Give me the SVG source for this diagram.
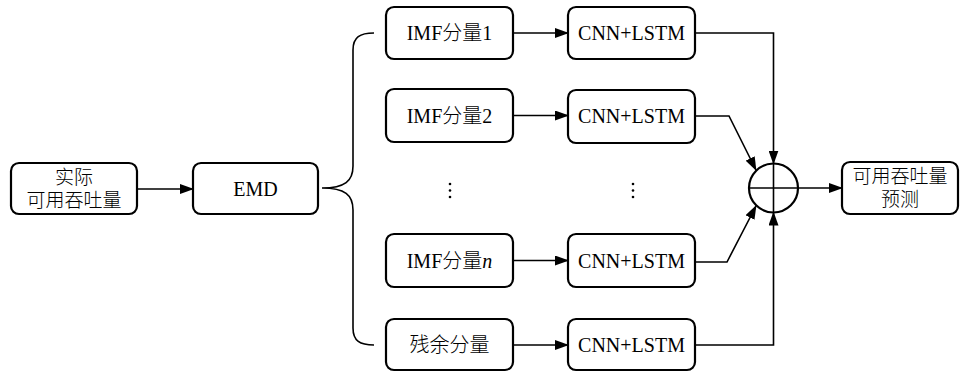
<svg xmlns="http://www.w3.org/2000/svg" width="963" height="376" viewBox="0 0 963 376">
<defs>
<marker id="ah" markerWidth="14" markerHeight="10" refX="13" refY="5" orient="auto" markerUnits="userSpaceOnUse">
<path d="M0,0 L14,5 L0,10 Z" fill="#000"/>
</marker>
<style>
.box{fill:#fff;stroke:#000;stroke-width:2.2}
.t{font-size:20px;fill:#000;text-anchor:middle}
.t2{font-size:19px;fill:#000;text-anchor:middle;font-family:'Noto Sans CJK SC',sans-serif;font-weight:300}
.c{fill:none;stroke:#000;stroke-width:1.6}
.dot{fill:#000}
</style>
</defs>
<rect width="963" height="376" fill="#fff"/>
<g id="input"><rect class="box" x="11" y="163" width="126" height="51" rx="8"/><text class="t2" x="74" y="184"><tspan x="74">实际</tspan><tspan x="74" dy="23">可用吞吐量</tspan></text></g>
<g id="emd"><rect class="box" x="193" y="163" width="125" height="51" rx="8"/><text class="t" font-family="Liberation Serif, Times New Roman, serif" x="255.5" y="195.5">EMD</text></g>
<g id="imf1"><rect class="box" x="386" y="7" width="127" height="52" rx="8"/><text class="t" font-family="Liberation Serif, serif" x="449.5" y="40">IMF<tspan font-family="Noto Sans CJK SC, sans-serif" font-weight="300">分量</tspan>1</text></g>
<g id="imf2"><rect class="box" x="386" y="89" width="127" height="53" rx="8"/><text class="t" font-family="Liberation Serif, serif" x="449.5" y="122.5">IMF<tspan font-family="Noto Sans CJK SC, sans-serif" font-weight="300">分量</tspan>2</text></g>
<g id="imfn"><rect class="box" x="386" y="234" width="127" height="53" rx="8"/><text class="t" font-family="Liberation Serif, serif" x="449.5" y="267.5">IMF<tspan font-family="Noto Sans CJK SC, sans-serif" font-weight="300">分量</tspan><tspan font-style="italic">n</tspan></text></g>
<g id="res"><rect class="box" x="386" y="319" width="127" height="51" rx="8"/><text class="t" font-family="Noto Sans CJK SC, sans-serif" font-weight="300" x="449.5" y="352">残余分量</text></g>
<g id="cnn1"><rect class="box" x="568" y="7" width="127" height="52" rx="8"/><text class="t" font-family="Liberation Serif, serif" x="631.5" y="40">CNN+LSTM</text></g>
<g id="cnn2"><rect class="box" x="568" y="90" width="127" height="53" rx="8"/><text class="t" font-family="Liberation Serif, serif" x="631.5" y="123">CNN+LSTM</text></g>
<g id="cnnn"><rect class="box" x="568" y="234" width="127" height="53" rx="8"/><text class="t" font-family="Liberation Serif, serif" x="631.5" y="267.5">CNN+LSTM</text></g>
<g id="cnnr"><rect class="box" x="568" y="319" width="127" height="51" rx="8"/><text class="t" font-family="Liberation Serif, serif" x="631.5" y="352">CNN+LSTM</text></g>
<g id="sum"><circle cx="773.5" cy="188" r="24.5" fill="#fff" stroke="#000" stroke-width="2.2"/><line class="c" x1="749" y1="188" x2="798" y2="188"/><line class="c" x1="773.5" y1="163.5" x2="773.5" y2="212.5"/></g>
<g id="output"><rect class="box" x="842" y="162" width="116" height="52" rx="8"/><text class="t2" x="900" y="183"><tspan x="900">可用吞吐量</tspan><tspan x="900" dy="23">预测</tspan></text></g>
<g id="dots">
<circle class="dot" cx="450" cy="184" r="1.3"/><circle class="dot" cx="450" cy="190.5" r="1.3"/><circle class="dot" cx="450" cy="197" r="1.3"/>
<circle class="dot" cx="633" cy="184" r="1.3"/><circle class="dot" cx="633" cy="190.5" r="1.3"/><circle class="dot" cx="633" cy="197" r="1.3"/>
</g>
<g id="connectors">
<line class="c" x1="137" y1="189" x2="193" y2="189" marker-end="url(#ah)"/>
<path class="c" d="M374,33 C360,33 353,37 353,50 L353,166 C353,181 345,188 322,188 C345,188 353,195 353,210 L353,328 C353,341 360,345 374,345"/>
<line class="c" x1="513" y1="33" x2="568" y2="33" marker-end="url(#ah)"/>
<line class="c" x1="513" y1="115.5" x2="568" y2="115.5" marker-end="url(#ah)"/>
<line class="c" x1="513" y1="260.5" x2="568" y2="260.5" marker-end="url(#ah)"/>
<line class="c" x1="513" y1="345" x2="568" y2="345" marker-end="url(#ah)"/>
<path class="c" d="M695,33 L773.5,33 L773.5,163.5" marker-end="url(#ah)"/>
<path class="c" d="M695,345 L773.5,345 L773.5,212.5" marker-end="url(#ah)"/>
<path class="c" d="M695,116 L729,116 L756,170" marker-end="url(#ah)"/>
<path class="c" d="M695,262 L727,262 L756,206" marker-end="url(#ah)"/>
<line class="c" x1="798" y1="188" x2="842" y2="188" marker-end="url(#ah)"/>
</g>
</svg>
